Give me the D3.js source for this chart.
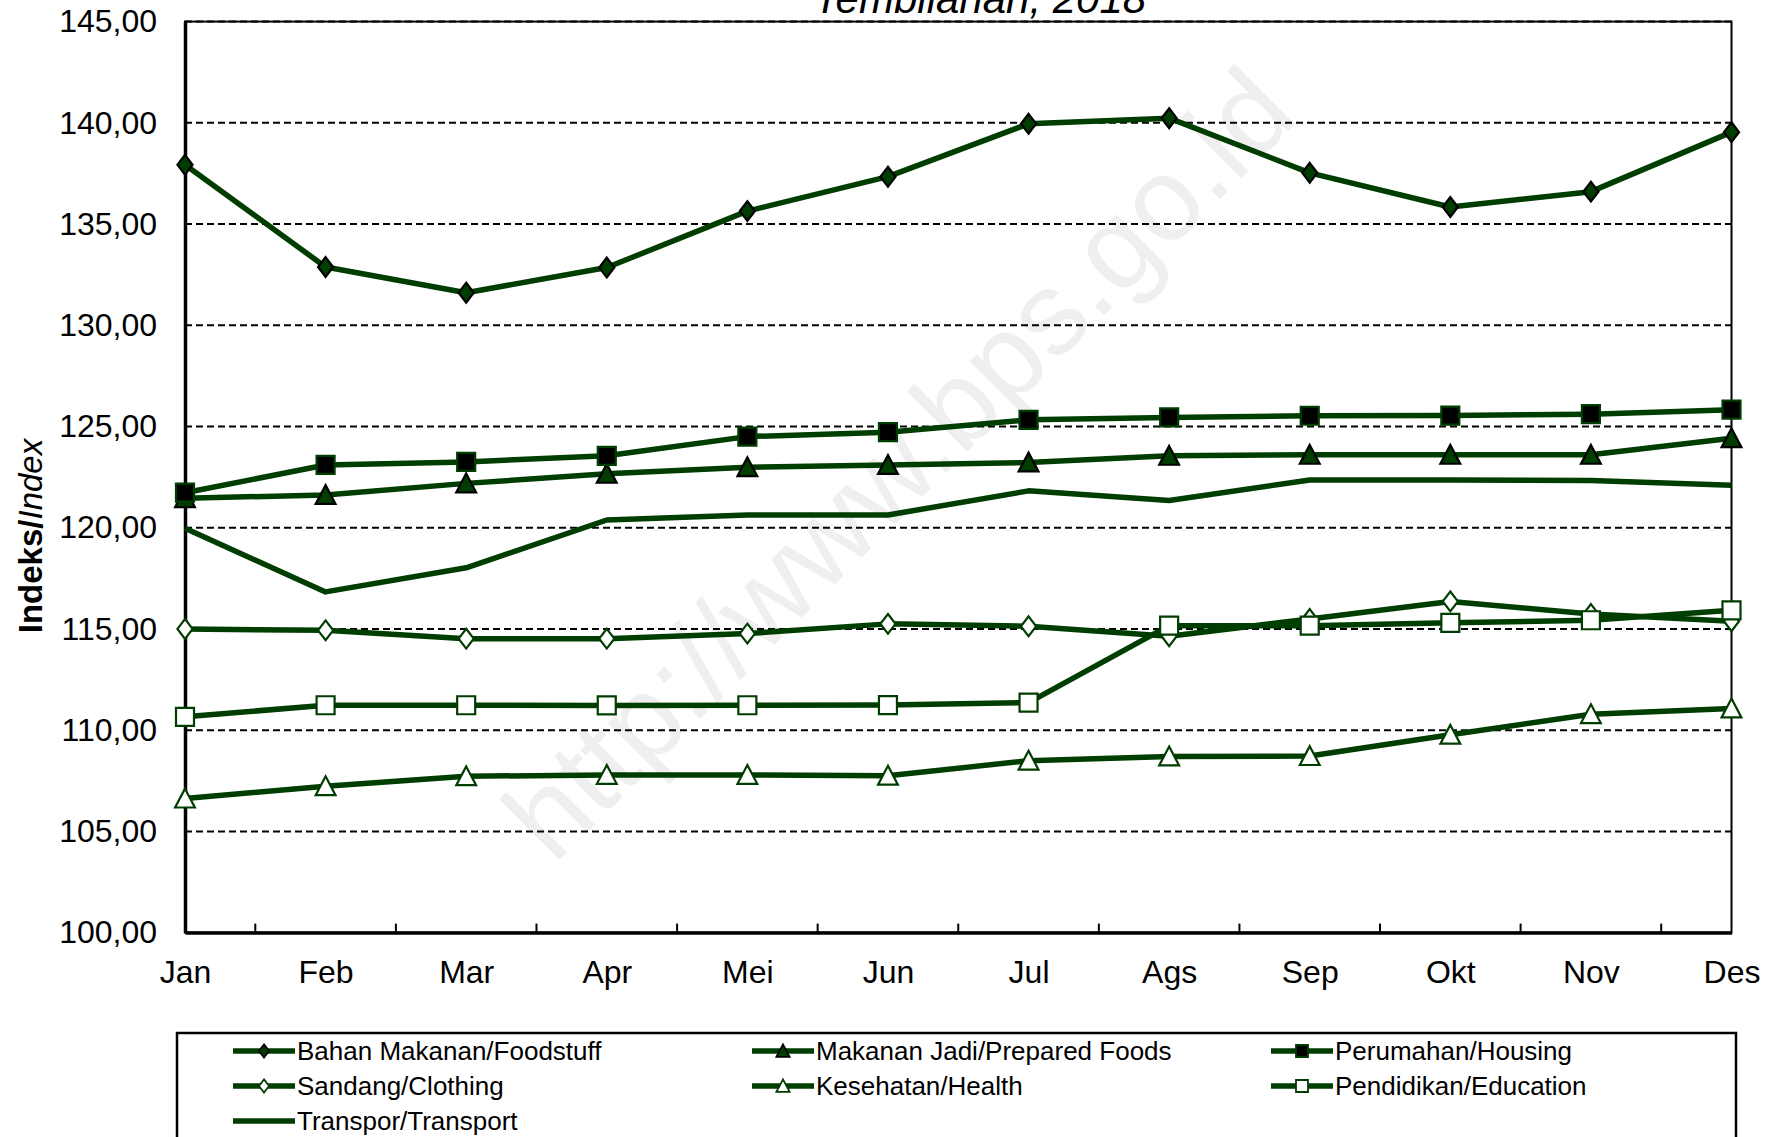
<!DOCTYPE html>
<html>
<head>
<meta charset="utf-8">
<script src="https://cdn.jsdelivr.net/npm/d3@7"></script>
<style>
  html, body { margin: 0; padding: 0; background: #fff; }
  svg { display: block; font-family: "Liberation Sans", Arial, sans-serif; }
</style>
</head>
<body>
<svg id="chart" width="1779" height="1137"></svg>
<script>
// ---------- data ----------
const months = ["Jan","Feb","Mar","Apr","Mei","Jun","Jul","Ags","Sep","Okt","Nov","Des"];
const yTicks = [100,105,110,115,120,125,130,135,140,145];
const bahanMakanan = [137.93,132.88,131.61,132.85,135.64,137.34,139.95,140.23,137.53,135.84,136.60,139.54];
const makananJadi  = [121.45,121.62,122.19,122.66,122.99,123.10,123.22,123.55,123.60,123.60,123.60,124.42];
const perumahan    = [121.73,123.10,123.25,123.55,124.50,124.72,125.33,125.45,125.53,125.54,125.61,125.83];
const sandang      = [115.00,114.93,114.52,114.52,114.77,115.25,115.13,114.64,115.49,116.36,115.74,115.38];
const kesehatan    = [106.62,107.23,107.72,107.79,107.79,107.75,108.49,108.70,108.72,109.77,110.79,111.07];
const pendidikan   = [110.66,111.23,111.23,111.22,111.23,111.24,111.36,115.16,115.16,115.30,115.43,115.92];
const transpor     = [119.97,116.83,118.02,120.38,120.63,120.63,121.82,121.34,122.36,122.36,122.33,122.10];
const seriesNames  = ["Bahan Makanan/Foodstuff","Makanan Jadi/Prepared Foods","Perumahan/Housing",
                      "Sandang/Clothing","Kesehatan/Health","Pendidikan/Education","Transpor/Transport"];

// ---------- styles ----------
const GREEN = "#003d00";
const series = [
  {name: seriesNames[0], values: bahanMakanan, marker: "diamond",  fill: GREEN,  stroke: "#000"},
  {name: seriesNames[1], values: makananJadi,  marker: "triangle", fill: GREEN,  stroke: "#000"},
  {name: seriesNames[2], values: perumahan,    marker: "square",   fill: "#000", stroke: GREEN},
  {name: seriesNames[3], values: sandang,      marker: "diamond",  fill: "#fff", stroke: GREEN},
  {name: seriesNames[4], values: kesehatan,    marker: "triangle", fill: "#fff", stroke: GREEN},
  {name: seriesNames[5], values: pendidikan,   marker: "square",   fill: "#fff", stroke: GREEN},
  {name: seriesNames[6], values: transpor,     marker: "none",     fill: "#fff", stroke: GREEN}
];

const svg = d3.select("#chart");
const pLeft = 185, pRight = 1731.5, pTop = 21.6, pBottom = 932.6;

const x = d3.scalePoint().domain(months).range([pLeft, pRight]);
const y = d3.scaleLinear().domain([100, 145]).range([pBottom, pTop]);

function markerPath(type, s) {
  const p = d3.path();
  if (type === "diamond") {
    const w = s * 0.42, h = s * 0.55;
    p.moveTo(0, -h); p.lineTo(w, 0); p.lineTo(0, h); p.lineTo(-w, 0); p.closePath();
  } else if (type === "square") {
    const h = s / 2;
    p.rect(-h, -h, s, s);
  } else if (type === "triangle") {
    const w = s * 0.55, h = s * 0.55;
    p.moveTo(0, -h); p.lineTo(w, h * 0.9); p.lineTo(-w, h * 0.9); p.closePath();
  }
  return p.toString();
}

// ---------- watermark ----------
svg.append("text")
  .attr("transform", "translate(905,470) rotate(-45)")
  .attr("text-anchor", "middle")
  .attr("dominant-baseline", "middle")
  .attr("font-size", 118)
  .attr("fill", "#efefef")
  .text("http://www.bps.go.id");

// ---------- title (cut off at top, as in the source) ----------
svg.append("text")
  .attr("x", 980).attr("y", 13)
  .attr("text-anchor", "middle")
  .attr("font-size", 42)
  .attr("font-style", "italic")
  .attr("fill", "#000")
  .text("Tembilahan, 2018");

// ---------- gridlines ----------
svg.append("g").selectAll("line")
  .data(yTicks.filter(d => d > 100))
  .join("line")
  .attr("x1", pLeft).attr("x2", pRight)
  .attr("y1", d => y(d)).attr("y2", d => y(d))
  .attr("stroke", "#000").attr("stroke-width", 2)
  .attr("stroke-dasharray", "7,4");

// plot frame
svg.append("rect")
  .attr("x", pLeft).attr("y", pTop)
  .attr("width", pRight - pLeft).attr("height", pBottom - pTop)
  .attr("fill", "none").attr("stroke", "#000").attr("stroke-width", 2);

// ---------- axes ----------
const yAxis = d3.axisLeft(y).tickValues(yTicks).tickSize(0).tickPadding(28)
  .tickFormat(d => d3.format(".2f")(d).replace(".", ","));
const gy = svg.append("g").attr("transform", `translate(${pLeft},0)`).call(yAxis);
gy.select(".domain").attr("stroke", "#000").attr("stroke-width", 3.5);
gy.selectAll("text").attr("font-size", 32).attr("fill", "#000")
  .attr("font-family", "'Liberation Sans', Arial, sans-serif");

const xAxis = d3.axisBottom(x).tickSize(0).tickPadding(28);
const gx = svg.append("g").attr("transform", `translate(0,${pBottom})`).call(xAxis);
gx.select(".domain").attr("stroke", "#000").attr("stroke-width", 3.5);
gx.selectAll("text").attr("font-size", 32).attr("fill", "#000")
  .attr("font-family", "'Liberation Sans', Arial, sans-serif");

// inward ticks between categories
const step = x.step();
svg.append("g").selectAll("line")
  .data(months.slice(0, -1))
  .join("line")
  .attr("x1", d => x(d) + step / 2).attr("x2", d => x(d) + step / 2)
  .attr("y1", pBottom).attr("y2", pBottom - 9)
  .attr("stroke", "#000").attr("stroke-width", 2);

// y-axis title
const yt = svg.append("text")
  .attr("transform", "translate(42,536) rotate(-90)")
  .attr("text-anchor", "middle")
  .attr("font-size", 33)
  .attr("fill", "#000");
yt.append("tspan").attr("font-weight", "bold").text("Indeks/");
yt.append("tspan").attr("font-style", "italic").text("Index");

// ---------- lines and markers ----------
const line = d3.line().x((d, i) => x(months[i])).y(d => y(d));
const MS = 18;
series.forEach(s => {
  const g = svg.append("g");
  g.append("path").datum(s.values)
    .attr("d", line).attr("fill", "none")
    .attr("stroke", GREEN).attr("stroke-width", 5.5)
    .attr("stroke-linejoin", "round");
  if (s.marker !== "none") {
    g.selectAll("path.m").data(s.values).join("path").attr("class", "m")
      .attr("transform", (d, i) => `translate(${x(months[i])},${y(d)})`)
      .attr("d", markerPath(s.marker, MS))
      .attr("fill", s.fill).attr("stroke", s.stroke).attr("stroke-width", 2.2);
  }
});

// ---------- legend ----------
const lg = svg.append("g");
lg.append("rect").attr("x", 177).attr("y", 1033).attr("width", 1559).attr("height", 140)
  .attr("fill", "#fff").attr("stroke", "#000").attr("stroke-width", 2.5);
const colX = [233, 752, 1271];
const rowY = [1051, 1086, 1121];
series.forEach((s, i) => {
  const cx = colX[i % 3], cy = rowY[Math.floor(i / 3)];
  const it = lg.append("g").attr("transform", `translate(${cx},${cy})`);
  it.append("line").attr("x1", 0).attr("x2", 62).attr("y1", 0).attr("y2", 0)
    .attr("stroke", GREEN).attr("stroke-width", 5.5);
  if (s.marker !== "none") {
    it.append("path").attr("transform", "translate(31,0)")
      .attr("d", markerPath(s.marker, 12))
      .attr("fill", s.fill).attr("stroke", s.stroke).attr("stroke-width", 1.8);
  }
  it.append("text").attr("x", 64).attr("y", 9)
    .attr("font-size", 26).attr("fill", "#000").text(s.name);
});
</script>
</body>
</html>
